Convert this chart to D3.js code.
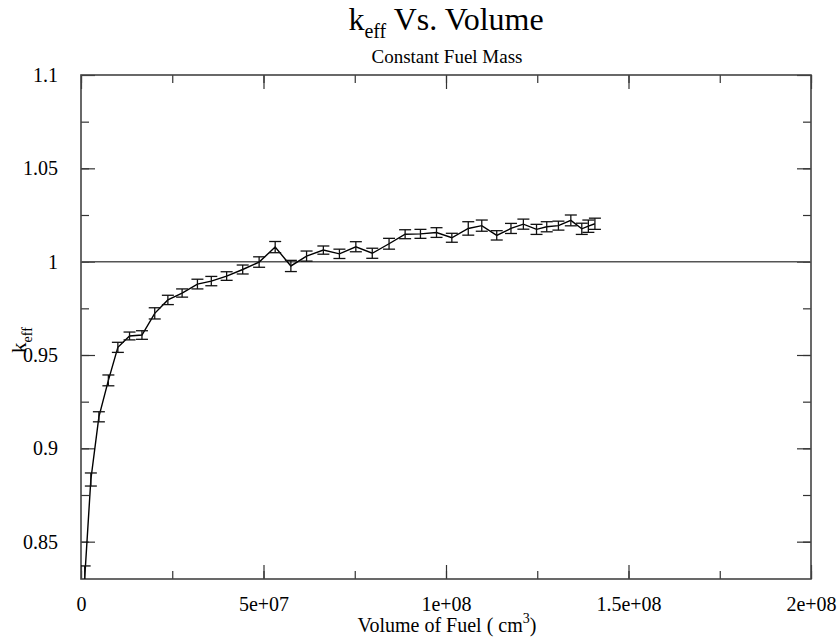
<!DOCTYPE html>
<html>
<head>
<meta charset="utf-8">
<script src="https://cdn.jsdelivr.net/npm/d3@7"></script>
<style>
  body { margin: 0; background: white; }
  svg text { font-family: "Liberation Serif", "Times New Roman", serif !important; fill: black; }
</style>
</head>
<body>
<div id="chart"></div>
<script>
// keff vs volume //////////////////////////////////////////////////////////////

var width = 840;
var height = 639;
var margin = { top: 75, right: 29, bottom: 60, left: 81 };

// volume of fuel (cm^3)
var volume = [1.0e6, 2.7e6, 4.9e6, 7.5e6, 10.1e6, 13.3e6, 16.7e6, 20.2e6, 23.8e6, 27.7e6,
  31.9e6, 35.7e6, 39.9e6, 44.3e6, 48.8e6, 53.2e6, 57.5e6, 61.8e6, 66.4e6, 70.8e6,
  75.3e6, 79.8e6, 84.4e6, 88.8e6, 93.0e6, 97.4e6, 101.6e6, 106.1e6, 109.8e6, 113.9e6,
  117.8e6, 121.2e6, 124.8e6, 127.6e6, 130.8e6, 134.2e6, 137.2e6, 139.0e6, 140.8e6];

// k effective
var keff = [0.830, 0.8833, 0.9169, 0.9364, 0.9541, 0.9602, 0.9607, 0.9723, 0.9795, 0.9832,
  0.9880, 0.9896, 0.9923, 0.9958, 0.9998, 1.0078, 0.9977, 1.0030, 1.0062, 1.0042,
  1.0080, 1.0045, 1.0096, 1.0147, 1.0149, 1.0156, 1.0128, 1.0178, 1.0193, 1.0141,
  1.0178, 1.0201, 1.0173, 1.0187, 1.0193, 1.0221, 1.0176, 1.0190, 1.0203];

// error (one sigma)
var keffErr = [0.0070, 0.0035, 0.0027, 0.0029, 0.0027, 0.0021, 0.0023, 0.0030, 0.0025, 0.0022,
  0.0026, 0.0025, 0.0023, 0.0024, 0.0028, 0.0030, 0.0030, 0.0027, 0.0022, 0.0025,
  0.0027, 0.0027, 0.0029, 0.0024, 0.0024, 0.0026, 0.0024, 0.0036, 0.0030, 0.0025,
  0.0027, 0.0027, 0.0027, 0.0027, 0.0024, 0.0029, 0.0030, 0.0033, 0.0030];

var xTicks = [0, 5e7, 1e8, 1.5e8, 2e8];
var xTickLabels = ['0', '5e+07', '1e+08', '1.5e+08', '2e+08'];
var yTicks = [0.85, 0.9, 0.95, 1, 1.05, 1.1];
var yTickLabels = ['0.85', '0.9', '0.95', '1', '1.05', '1.1'];

var data = volume.map(function(v, i){ return { v: v, k: keff[i], e: keffErr[i] }; });

////////////////////////////////////////////////////////////////////////////////

var svg = d3.select('#chart').append('svg')
  .attr('width', width)
  .attr('height', height);

var x = d3.scaleLinear().domain([0, 2e8]).range([margin.left, width - margin.right]);
var y = d3.scaleLinear().domain([0.83, 1.1]).range([height - margin.bottom, margin.top]);

svg.append('clipPath').attr('id', 'plot-clip')
  .append('rect')
  .attr('x', margin.left)
  .attr('y', margin.top)
  .attr('width', width - margin.left - margin.right)
  .attr('height', height - margin.top - margin.bottom);

// axes, ticks pointing inward, mirrored on opposite side
var xMinor = d3.range(0, 2e8 + 1, 2.5e7);
var yMinor = d3.range(0, 12).map(function(i){ return 0.825 + 0.025 * i; })
  .filter(function(d){ return d > 0.83 && d < 1.1; });

function addAxis(axis, transform, labels) {
  var g = svg.append('g')
    .attr('transform', transform)
    .call(axis);
  g.attr('font-family', null);
  g.select('.domain').remove();
  g.selectAll('line').attr('stroke', '#333').attr('stroke-width', 1.2);
  if (!labels) g.selectAll('text').remove();
  return g;
}

addAxis(d3.axisBottom(x).tickValues(xMinor).tickSize(-8).tickFormat(''),
  'translate(0,' + (height - margin.bottom) + ')', false);
var xbM = addAxis(d3.axisBottom(x).tickValues(xTicks).tickSize(-14).tickPadding(26)
  .tickFormat(function(d, i){ return xTickLabels[i]; }),
  'translate(0,' + (height - margin.bottom) + ')', true);
addAxis(d3.axisTop(x).tickValues(xMinor).tickSize(-8).tickFormat(''),
  'translate(0,' + margin.top + ')', false);
addAxis(d3.axisTop(x).tickValues(xTicks).tickSize(-14).tickFormat(''),
  'translate(0,' + margin.top + ')', false);

addAxis(d3.axisLeft(y).tickValues(yMinor).tickSize(-8).tickFormat(''),
  'translate(' + margin.left + ',0)', false);
var ylM = addAxis(d3.axisLeft(y).tickValues(yTicks).tickSize(-14).tickPadding(23)
  .tickFormat(function(d, i){ return yTickLabels[i]; }),
  'translate(' + margin.left + ',0)', true);
addAxis(d3.axisRight(y).tickValues(yMinor).tickSize(-8).tickFormat(''),
  'translate(' + (width - margin.right) + ',0)', false);
addAxis(d3.axisRight(y).tickValues(yTicks).tickSize(-14).tickFormat(''),
  'translate(' + (width - margin.right) + ',0)', false);

xbM.selectAll('text').style('font-size', '20px').attr('dy', '0.3em');
ylM.selectAll('text').style('font-size', '20px').attr('text-anchor', 'end');

// frame
svg.append('rect')
  .attr('x', margin.left)
  .attr('y', margin.top)
  .attr('width', width - margin.left - margin.right)
  .attr('height', height - margin.top - margin.bottom)
  .style('fill', 'none')
  .style('stroke', '#444')
  .style('stroke-width', 1.6);

var plot = svg.append('g').attr('clip-path', 'url(#plot-clip)');

// k = 1 reference line
plot.append('line')
  .attr('x1', margin.left)
  .attr('x2', width - margin.right)
  .attr('y1', y(1))
  .attr('y2', y(1))
  .style('stroke', '#555')
  .style('stroke-width', 1.5);

// data line
plot.append('path')
  .datum(data)
  .attr('d', d3.line().x(function(d){ return x(d.v); }).y(function(d){ return y(d.k); }))
  .style('fill', 'none')
  .style('stroke', 'black')
  .style('stroke-width', 1.4);

// error bars
var capHalf = 6;
var bars = plot.append('g').selectAll('g')
  .data(data)
  .enter().append('g')
  .style('stroke', '#111')
  .style('stroke-width', 1.3);

bars.append('line')
  .attr('x1', function(d){ return x(d.v); })
  .attr('x2', function(d){ return x(d.v); })
  .attr('y1', function(d){ return y(d.k - d.e); })
  .attr('y2', function(d){ return y(d.k + d.e); });

bars.selectAll('line.cap')
  .data(function(d){ return [{ v: d.v, k: d.k - d.e }, { v: d.v, k: d.k + d.e }]; })
  .enter().append('line')
  .attr('class', 'cap')
  .attr('x1', function(d){ return x(d.v) - capHalf; })
  .attr('x2', function(d){ return x(d.v) + capHalf; })
  .attr('y1', function(d){ return y(d.k); })
  .attr('y2', function(d){ return y(d.k); });

// titles
var title = svg.append('text')
  .attr('x', 446)
  .attr('y', 30)
  .attr('text-anchor', 'middle')
  .style('font-size', '32px');
title.append('tspan').text('k');
title.append('tspan').attr('dy', 8).style('font-size', '20px').text('eff');
title.append('tspan').attr('dy', -8).text(' Vs. Volume');

svg.append('text')
  .attr('x', 447)
  .attr('y', 63)
  .attr('text-anchor', 'middle')
  .style('font-size', '19px')
  .text('Constant Fuel Mass');

var xl = svg.append('text')
  .attr('x', 447)
  .attr('y', 632)
  .attr('text-anchor', 'middle')
  .style('font-size', '20px');
xl.append('tspan').text('Volume of Fuel ( cm');
xl.append('tspan').attr('dy', -9).style('font-size', '14px').text('3');
xl.append('tspan').attr('dy', 9).text(')');

var yl = svg.append('text')
  .attr('transform', 'translate(26,340) rotate(-90)')
  .attr('text-anchor', 'middle')
  .style('font-size', '21px');
yl.append('tspan').text('k');
yl.append('tspan').attr('dy', 6).style('font-size', '14px').text('eff');
</script>
</body>
</html>
